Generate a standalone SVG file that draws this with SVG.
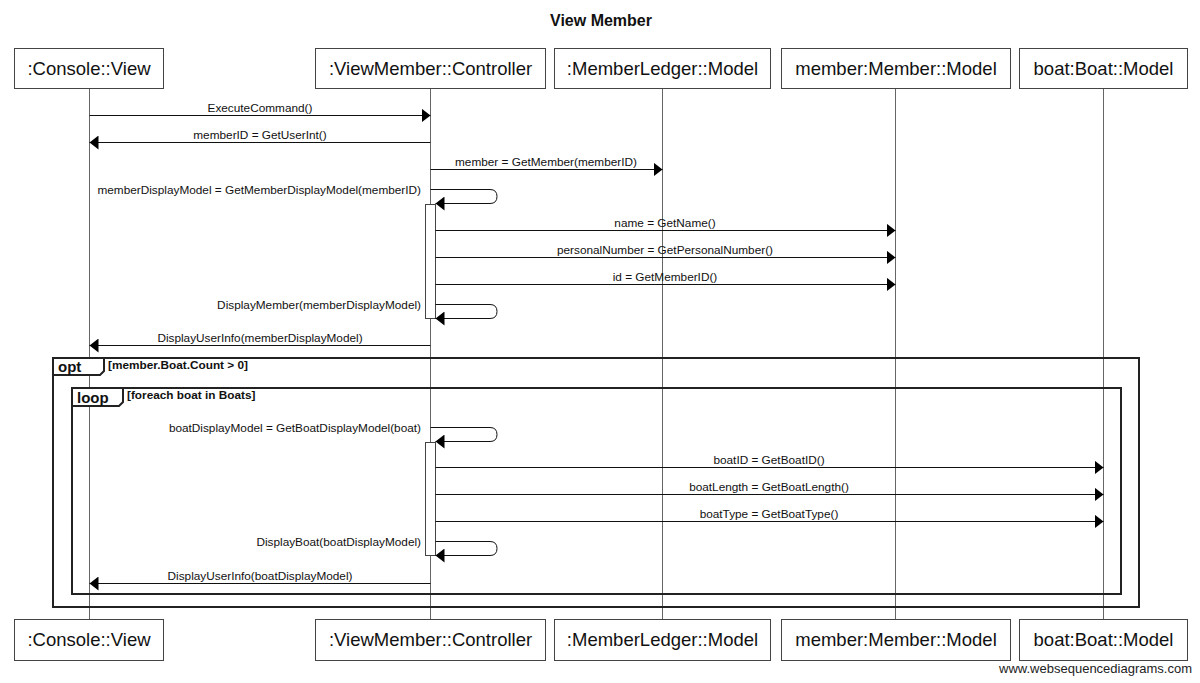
<svg xmlns="http://www.w3.org/2000/svg" width="1200" height="683" viewBox="0 0 1200 683">
<style>
.bg{fill:#fff}
.box{fill:#fff;stroke:#444;stroke-width:1}
.pt{font-family:"Liberation Sans",Arial,sans-serif;font-size:18.5px;fill:#111;text-anchor:middle}
.life{stroke:#666;stroke-width:1;fill:none}
.msg{stroke:#111;stroke-width:1;fill:none;marker-end:url(#ah)}
.ml{font-family:"Liberation Sans",Arial,sans-serif;font-size:11.8px;fill:#111;text-anchor:middle}
.sl{font-family:"Liberation Sans",Arial,sans-serif;font-size:11.8px;fill:#111;text-anchor:end}
.act{fill:#fff;stroke:#444;stroke-width:1}
.frame{fill:none;stroke:#222;stroke-width:2}
.tab{fill:#fff;stroke:#222;stroke-width:2}
.ft{font-family:"Liberation Sans",Arial,sans-serif;font-size:15px;font-weight:bold;fill:#111}
.gt{font-family:"Liberation Sans",Arial,sans-serif;font-size:11.8px;font-weight:bold;fill:#111}
.title{font-family:"Liberation Sans",Arial,sans-serif;font-size:16px;font-weight:bold;fill:#111;text-anchor:middle}
.wm{font-family:"Liberation Sans",Arial,sans-serif;font-size:13px;fill:#222;text-anchor:end}
</style>
<defs>
<marker id="ah" markerUnits="userSpaceOnUse" markerWidth="10" markerHeight="14" refX="9" refY="7" orient="auto">
<path d="M0,0 L9,7 L0,14 z" fill="#000"/>
</marker>
</defs>
<rect class="bg" x="0" y="0" width="1200" height="683"/>
<text class="title" x="601" y="26">View Member</text>

<g id="lifelines">
<line class="life" x1="89.5" y1="88" x2="89.5" y2="619"/>
<line class="life" x1="430.5" y1="88" x2="430.5" y2="619"/>
<line class="life" x1="662.5" y1="88" x2="662.5" y2="619"/>
<line class="life" x1="895.5" y1="88" x2="895.5" y2="619"/>
<line class="life" x1="1103.5" y1="88" x2="1103.5" y2="619"/>
</g>

<g id="frame-opt">
<rect class="frame" x="53" y="358" width="1086" height="249"/>
<path class="tab" d="M53,358 H104 V371 L100,375 H53 Z"/>
<text class="ft" x="58" y="372">opt</text>
<text class="gt" x="108" y="369">[member.Boat.Count &gt; 0]</text>
</g>

<g id="frame-loop">
<rect class="frame" x="72" y="388" width="1049" height="206"/>
<path class="tab" d="M72,388 H123 V402 L119,406 H72 Z"/>
<text class="ft" x="77" y="403">loop</text>
<text class="gt" x="127" y="399">[foreach boat in Boats]</text>
</g>

<g id="participant-console-view">
<rect class="box" x="14.5" y="48.5" width="149" height="40"/>
<text class="pt" x="89" y="75">:Console::View</text>
<rect class="box" x="14.5" y="619.5" width="149" height="41"/>
<text class="pt" x="89" y="646">:Console::View</text>
</g>
<g id="participant-controller">
<rect class="box" x="315.5" y="48.5" width="230" height="40"/>
<text class="pt" x="430.5" y="75">:ViewMember::Controller</text>
<rect class="box" x="315.5" y="619.5" width="230" height="41"/>
<text class="pt" x="430.5" y="646">:ViewMember::Controller</text>
</g>
<g id="participant-memberledger">
<rect class="box" x="554.5" y="48.5" width="216" height="40"/>
<text class="pt" x="662.5" y="75">:MemberLedger::Model</text>
<rect class="box" x="554.5" y="619.5" width="216" height="41"/>
<text class="pt" x="662.5" y="646">:MemberLedger::Model</text>
</g>
<g id="participant-member">
<rect class="box" x="781.5" y="48.5" width="229" height="40"/>
<text class="pt" x="896" y="75">member:Member::Model</text>
<rect class="box" x="781.5" y="619.5" width="229" height="41"/>
<text class="pt" x="896" y="646">member:Member::Model</text>
</g>
<g id="participant-boat">
<rect class="box" x="1019.5" y="48.5" width="168" height="40"/>
<text class="pt" x="1103.5" y="75">boat:Boat::Model</text>
<rect class="box" x="1019.5" y="619.5" width="168" height="41"/>
<text class="pt" x="1103.5" y="646">boat:Boat::Model</text>
</g>

<g id="activations">
<rect class="act" x="425.5" y="204.5" width="10" height="114"/>
<rect class="act" x="425.5" y="442.5" width="10" height="113"/>
</g>

<g id="connectors">
<path class="msg" d="M89.5,115.5 H430.5"/>
<text class="ml" x="260" y="112">ExecuteCommand()</text>
<path class="msg" d="M430.5,142.5 H89.5"/>
<text class="ml" x="260" y="139">memberID = GetUserInt()</text>
<path class="msg" d="M430.5,169.5 H662.5"/>
<text class="ml" x="546" y="166">member = GetMember(memberID)</text>
<path class="msg" d="M430.5,189.5 H490 Q497,189.5 497,196.5 Q497,203.5 490,203.5 H435.5"/>
<text class="sl" x="421" y="194">memberDisplayModel = GetMemberDisplayModel(memberID)</text>
<path class="msg" d="M435.5,230.5 H895.5"/>
<text class="ml" x="665" y="227">name = GetName()</text>
<path class="msg" d="M435.5,257.5 H895.5"/>
<text class="ml" x="665" y="254">personalNumber = GetPersonalNumber()</text>
<path class="msg" d="M435.5,284.5 H895.5"/>
<text class="ml" x="665" y="281">id = GetMemberID()</text>
<path class="msg" d="M435.5,304.5 H490 Q497,304.5 497,311.5 Q497,318.5 490,318.5 H435.5"/>
<text class="sl" x="421" y="309">DisplayMember(memberDisplayModel)</text>
<path class="msg" d="M430.5,345.5 H89.5"/>
<text class="ml" x="260" y="342">DisplayUserInfo(memberDisplayModel)</text>
<path class="msg" d="M430.5,427.5 H490 Q497,427.5 497,434.5 Q497,441.5 490,441.5 H435.5"/>
<text class="sl" x="421" y="432">boatDisplayModel = GetBoatDisplayModel(boat)</text>
<path class="msg" d="M435.5,467.5 H1103.5"/>
<text class="ml" x="769" y="464">boatID = GetBoatID()</text>
<path class="msg" d="M435.5,494.5 H1103.5"/>
<text class="ml" x="769" y="491">boatLength = GetBoatLength()</text>
<path class="msg" d="M435.5,521.5 H1103.5"/>
<text class="ml" x="769" y="518">boatType = GetBoatType()</text>
<path class="msg" d="M435.5,541.5 H490 Q497,541.5 497,548.5 Q497,555.5 490,555.5 H435.5"/>
<text class="sl" x="421" y="546">DisplayBoat(boatDisplayModel)</text>
<path class="msg" d="M430.5,583.5 H89.5"/>
<text class="ml" x="260" y="580">DisplayUserInfo(boatDisplayModel)</text>
</g>

<text class="wm" x="1192" y="673">www.websequencediagrams.com</text>
</svg>
